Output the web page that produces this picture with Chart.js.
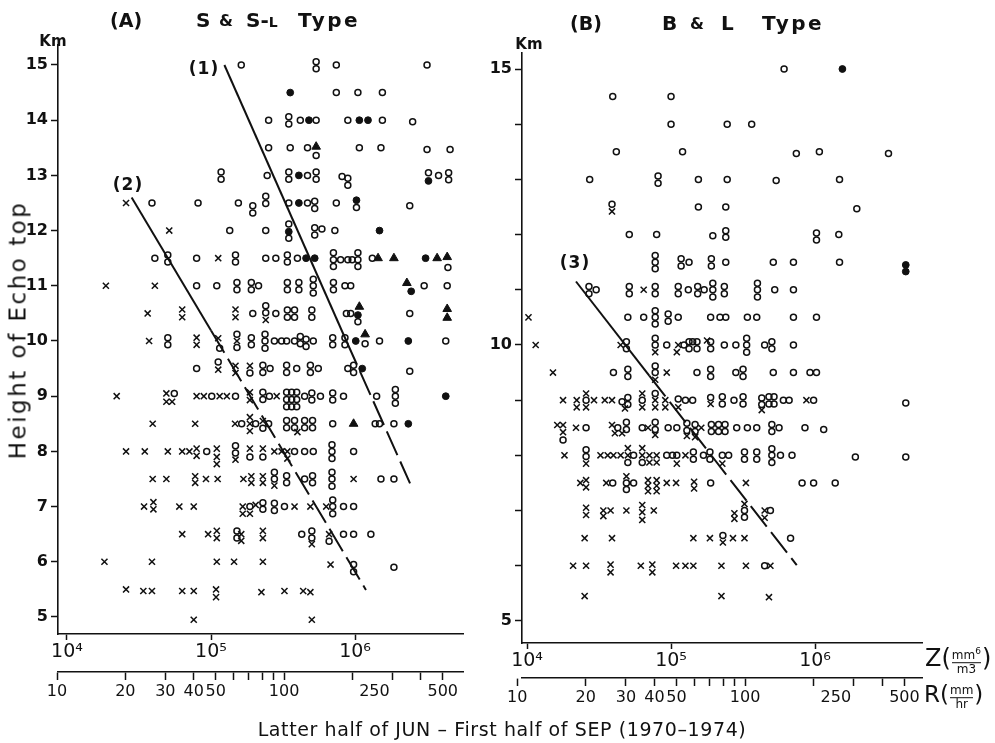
<!DOCTYPE html>
<html>
<head>
<meta charset="utf-8">
<script src="https://cdn.jsdelivr.net/npm/chart.js@4.4.1/dist/chart.umd.min.js"></script>
<style>
  html, body { margin: 0; padding: 0; background: #fff; }
  #wrap { position: relative; width: 995px; height: 743px; overflow: hidden; font-family: "DejaVu Sans", sans-serif; color: #111; }
  canvas { position: absolute; top: 0; }
  #cA { left: 0; }
  #cB { left: 490px; }
  .t { position: absolute; white-space: nowrap; line-height: 1; transform: translateY(-50%); }
  .c { position: absolute; white-space: nowrap; line-height: 1; transform: translate(-50%, -50%); }
  .h { font-size: 20px; font-weight: bold; }
  .fr { display: inline-flex; flex-direction: column; font-size: 12px; vertical-align: middle; text-align: center; line-height: 1.05; margin: 0 1px; }
  .fr .dn { border-top: 1.5px solid #111; }
</style>
</head>
<body>
<div id="wrap">
  <canvas id="cA" width="490" height="743"></canvas>
  <canvas id="cB" width="505" height="743"></canvas>

  <div class="t h" style="left:110px;top:20px;font-size:19px">(A)</div>
  <div class="t h" style="left:196px;top:20px">S</div>
  <div class="t h" style="left:219px;top:21px;font-size:16px">&amp;</div>
  <div class="t h" style="left:246px;top:20px">S-<span style="font-size:14px">L</span></div>
  <div class="t h" style="left:298px;top:20px;letter-spacing:2.5px">Type</div>

  <div class="t h" style="left:570px;top:23px;font-size:19px">(B)</div>
  <div class="t h" style="left:662px;top:23px">B</div>
  <div class="t h" style="left:690px;top:24px;font-size:16px">&amp;</div>
  <div class="t h" style="left:721px;top:23px">L</div>
  <div class="t h" style="left:762px;top:23px;letter-spacing:2.5px">Type</div>

  <div class="c" style="left:53px;top:41px;font-size:15px;font-weight:bold">Km</div>
  <div class="c" style="left:529px;top:44px;font-size:15px;font-weight:bold">Km</div>

  <div class="c" style="left:204px;top:68px;font-size:17px;font-weight:bold;letter-spacing:1px">(1)</div>
  <div class="c" style="left:128px;top:184px;font-size:17px;font-weight:bold;letter-spacing:1px">(2)</div>
  <div class="c" style="left:575px;top:262px;font-size:17px;font-weight:bold;letter-spacing:1px">(3)</div>

  <div class="c" style="left:18px;top:330px;font-size:23px;letter-spacing:2.5px;transform:translate(-50%,-50%) rotate(-90deg)">Height of Echo top</div>

  <div class="t" style="left:925px;top:661px"><span style="font-size:24px">Z(</span><span class="fr"><span>mm<sup style="font-size:9px">6</sup></span><span class="dn">m3</span></span><span style="font-size:24px">)</span></div>
  <div class="t" style="left:924px;top:697px"><span style="font-size:23px">R(</span><span class="fr"><span>mm</span><span class="dn">hr</span></span><span style="font-size:23px">)</span></div>

  <div class="c" style="left:502px;top:729px;font-size:19px;letter-spacing:0.6px">Latter half of JUN – First half of SEP (1970–1974)</div>
</div>

<script>
// Z axis ticks (mm6/m3) and R axis ticks (mm/hr)
const zTicks = [1e4, 1e5, 1e6];
const zTickText = ['10⁴', '10⁵', '10⁶'];
const rTicks = [10, 20, 30, 40, 50, 60, 70, 80, 90, 100, 200, 250, 300, 400, 500];
const rLabels = [10, 20, 30, 40, 50, 100, 250, 500];
const kmTicks = [5, 6, 7, 8, 9, 10, 11, 12, 13, 14, 15];
const kmLabelsA = [5, 6, 7, 8, 9, 10, 11, 12, 13, 14, 15];
const kmLabelsB = [5, 10, 15];

// points as [log10 Z, height km]
// (A) S & S-L type
const aOpen = [
  [6.19,15.45],
  [5.21,15.0],[5.73,15.06],[5.73,14.93],[5.87,15.0],[6.50,15.0],
  [5.87,14.5],[6.02,14.5],[6.19,14.5],
  [5.40,14.0],[5.54,14.06],[5.54,13.93],[5.62,14.0],[5.73,14.0],[5.95,14.0],[6.19,14.0],[6.40,13.97],
  [5.40,13.5],[5.55,13.5],[5.67,13.5],[5.73,13.36],[6.03,13.5],[6.18,13.5],[6.50,13.47],[6.66,13.47],
  [5.07,13.06],[5.07,12.93],[5.39,13.0],[5.54,13.06],[5.54,12.93],[5.67,13.0],[5.73,13.06],[5.73,12.93],
  [5.91,12.98],[5.95,12.95],[5.95,12.82],[6.51,13.05],[6.58,13.0],[6.65,13.05],[6.65,12.92],
  [4.59,12.5],[4.91,12.5],[5.19,12.5],[5.29,12.45],[5.29,12.32],[5.38,12.62],[5.38,12.49],[5.54,12.5],
  [5.67,12.5],[5.72,12.53],[5.72,12.4],[5.87,12.5],[6.01,12.42],[6.38,12.45],
  [5.13,12.0],[5.38,12.0],[5.54,12.12],[5.54,11.86],[5.72,12.05],[5.72,11.92],[5.77,12.03],[5.86,12.0],
  [4.61,11.5],[4.70,11.56],[4.70,11.43],[4.90,11.5],[5.17,11.56],[5.17,11.43],[5.38,11.5],[5.45,11.5],
  [5.53,11.56],[5.53,11.43],[5.60,11.5],[5.85,11.6],[5.85,11.47],[5.85,11.35],[5.90,11.47],[5.95,11.47],
  [5.98,11.47],[6.02,11.6],[6.02,11.47],[6.02,11.35],[6.12,11.5],[6.645,11.33],
  [4.90,11.0],[5.04,11.0],[5.18,11.06],[5.18,10.93],[5.28,11.06],[5.28,10.93],[5.33,11.0],[5.53,11.06],
  [5.53,10.93],[5.61,11.06],[5.61,10.93],[5.71,11.12],[5.71,11.0],[5.71,10.87],[5.85,11.06],[5.85,10.93],
  [5.93,11.0],[5.97,11.0],[6.48,11.0],[6.64,11.0],
  [5.29,10.5],[5.38,10.64],[5.38,10.51],[5.45,10.5],[5.53,10.56],[5.53,10.43],[5.58,10.56],[5.58,10.43],
  [5.70,10.56],[5.70,10.43],[5.94,10.5],[5.97,10.5],[6.02,10.35],[6.38,10.5],
  [4.70,10.06],[4.70,9.93],[5.06,9.87],[5.18,10.12],[5.18,9.88],[5.28,10.06],[5.28,9.93],[5.375,10.12],
  [5.375,10.0],[5.375,9.87],[5.44,10.0],[5.49,10.0],[5.525,10.0],[5.58,10.0],[5.62,10.08],[5.62,9.95],
  [5.66,10.03],[5.66,9.9],[5.71,10.0],[5.845,10.06],[5.845,9.93],[5.93,10.06],[5.93,9.93],[6.07,9.95],
  [6.17,10.0],[6.63,10.0],
  [4.90,9.5],[5.05,9.62],[5.27,9.42],[5.36,9.56],[5.36,9.43],[5.41,9.5],[5.525,9.56],[5.525,9.43],
  [5.595,9.5],[5.69,9.56],[5.69,9.43],[5.745,9.5],[5.95,9.5],[5.99,9.56],[5.99,9.43],[6.38,9.45],
  [4.745,9.05],[5.005,9.0],[5.17,9.0],[5.36,9.07],[5.36,8.94],[5.405,9.0],
  [5.525,9.07],[5.525,8.94],[5.525,8.81],[5.56,9.07],[5.56,8.94],[5.56,8.81],[5.595,9.07],[5.595,8.94],[5.595,8.81],
  [5.65,9.0],[5.70,9.06],[5.70,8.93],[5.76,9.0],[5.845,9.06],[5.845,8.93],[5.92,9.0],[6.15,9.0],
  [6.28,9.12],[6.28,9.0],[6.28,8.87],
  [5.213,8.5],[5.31,8.5],[5.36,8.42],[5.40,8.5],
  [5.525,8.56],[5.525,8.43],[5.58,8.56],[5.58,8.43],[5.65,8.56],[5.65,8.43],[5.705,8.56],[5.705,8.43],
  [5.845,8.5],[6.14,8.5],[6.17,8.5],[6.27,8.5],
  [4.97,8.0],[5.17,8.1],[5.17,7.97],[5.27,7.9],[5.36,7.9],[5.58,8.0],[5.65,8.0],[5.71,8.0],
  [5.84,8.12],[5.84,8.0],[5.84,7.87],[5.99,8.0],
  [5.44,7.62],[5.44,7.5],[5.525,7.56],[5.525,7.43],[5.65,7.5],[5.705,7.56],[5.705,7.43],
  [5.84,7.62],[5.84,7.5],[5.84,7.37],[6.18,7.5],[6.27,7.5],
  [5.27,7.0],[5.36,7.07],[5.36,6.95],[5.44,7.06],[5.44,6.93],[5.51,7.0],[5.845,7.12],[5.845,7.0],
  [5.845,6.87],[5.92,7.0],[5.99,7.0],
  [5.18,6.56],[5.18,6.43],[5.63,6.5],[5.70,6.56],[5.70,6.43],[5.82,6.37],[5.92,6.5],[5.99,6.5],[6.11,6.5],
  [5.99,5.95],[5.99,5.82],[6.27,5.9]
];
const aCross = [
  [4.41,12.5],[4.71,12.0],[5.05,11.5],[4.27,11.0],[4.61,11.0],
  [4.56,10.5],[4.80,10.57],[4.80,10.43],[5.17,10.57],[5.17,10.43],[5.38,10.38],
  [4.57,10.0],[4.90,10.06],[4.90,9.93],[5.05,10.05],[5.18,10.0],
  [5.05,9.48],[5.17,9.55],[5.17,9.42],[5.27,9.55],
  [4.345,9.0],[4.69,9.05],[4.69,8.9],[4.73,8.9],[4.90,9.0],[4.95,9.0],[5.06,9.0],[5.11,9.0],
  [5.27,9.07],[5.27,8.93],[5.456,9.0],
  [4.595,8.5],[4.89,8.5],[5.167,8.5],[5.27,8.62],[5.27,8.5],[5.27,8.37],[5.36,8.55],[5.60,8.35],
  [4.41,8.0],[4.54,8.0],[4.70,8.0],[4.80,8.0],[4.85,8.0],[4.90,8.05],[4.90,7.92],[5.04,8.05],
  [5.04,7.9],[5.04,7.77],[5.17,7.85],[5.27,8.05],[5.36,8.05],[5.44,8.0],[5.49,8.0],[5.53,8.0],[5.53,7.87],
  [4.595,7.5],[4.69,7.5],[4.89,7.55],[4.89,7.43],[4.965,7.5],[5.046,7.5],[5.225,7.5],[5.28,7.55],
  [5.28,7.43],[5.36,7.55],[5.36,7.43],[5.44,7.38],[5.99,7.5],
  [4.535,7.0],[4.60,7.08],[4.60,6.95],[4.78,7.0],[4.88,7.0],[5.22,7.0],[5.31,7.03],[5.22,6.87],
  [5.27,6.87],[5.58,7.0],[5.69,7.0],[5.80,7.0],
  [4.80,6.5],[4.98,6.5],[5.04,6.56],[5.04,6.43],[5.21,6.5],[5.21,6.38],[5.36,6.56],[5.36,6.43],
  [5.70,6.32],[5.82,6.5],
  [4.26,6.0],[4.59,6.0],[5.04,6.0],[5.16,6.0],[5.36,6.0],[5.83,5.95],
  [4.41,5.5],[4.53,5.47],[4.59,5.47],[4.80,5.47],[4.88,5.47],[5.035,5.5],[5.035,5.36],[5.35,5.45],
  [5.51,5.47],[5.64,5.47],[5.69,5.45],
  [4.88,4.95],[5.70,4.95]
];
const aDot = [
  [5.55,14.5],[5.68,14.0],[6.03,14.0],[6.09,14.0],[5.61,13.0],[6.51,12.9],[5.61,12.5],[6.01,12.55],
  [5.54,11.98],[6.17,12.0],[5.66,11.5],[5.72,11.5],[6.49,11.5],[6.39,10.9],[6.02,10.47],
  [6.005,10.0],[6.37,10.0],[6.05,9.5],[6.63,9.0],[6.37,8.5]
];
const aTri = [
  [5.73,13.52],[6.16,11.5],[6.27,11.5],[6.57,11.5],[6.64,11.52],[6.36,11.05],
  [6.03,10.62],[6.64,10.58],[6.64,10.42],[6.07,10.12],[5.99,8.5]
];

// (B) B & L type
const bOpen = [
  [5.785,15.0],
  [4.595,14.5],[5.0,14.5],
  [5.0,14.0],[5.39,14.0],[5.56,14.0],
  [4.62,13.5],[5.08,13.5],[5.87,13.47],[6.03,13.5],[6.51,13.47],
  [4.435,13.0],[4.91,13.06],[4.91,12.93],[5.19,13.0],[5.39,13.0],[5.73,12.98],[6.17,13.0],
  [4.59,12.55],[5.19,12.5],[5.38,12.5],[6.29,12.47],
  [4.71,12.0],[4.90,12.0],[5.29,11.98],[5.38,12.07],[5.38,11.95],[6.01,12.03],[6.01,11.9],[6.165,12.0],
  [4.89,11.62],[4.89,11.5],[4.89,11.38],[5.07,11.56],[5.07,11.43],[5.125,11.5],[5.28,11.56],[5.28,11.43],
  [5.38,11.5],[5.71,11.5],[5.85,11.5],[6.17,11.5],
  [4.43,11.06],[4.43,10.93],[4.48,11.0],[4.71,11.06],[4.71,10.93],[4.89,11.06],[4.89,10.93],[5.05,11.06],
  [5.05,10.93],[5.12,11.0],[5.185,11.06],[5.185,10.93],[5.23,11.0],[5.29,11.12],[5.29,11.0],[5.29,10.87],
  [5.37,11.06],[5.37,10.93],[5.60,11.12],[5.60,11.0],[5.60,10.87],[5.72,11.0],[5.85,11.0],
  [4.70,10.5],[4.81,10.5],[4.89,10.62],[4.89,10.5],[4.89,10.38],[4.98,10.56],[4.98,10.43],[5.05,10.5],
  [5.275,10.5],[5.34,10.5],[5.38,10.5],[5.53,10.5],[5.595,10.5],[5.85,10.5],[6.01,10.5],
  [4.69,10.06],[4.69,9.93],[4.89,10.12],[4.89,10.0],[4.97,10.0],[5.09,10.0],[5.125,10.06],[5.125,9.93],
  [5.15,10.06],[5.18,10.06],[5.18,9.93],[5.275,10.06],[5.275,9.93],[5.37,10.0],[5.45,10.0],[5.525,10.12],
  [5.525,10.0],[5.525,9.87],[5.65,10.0],[5.70,10.06],[5.70,9.93],[5.85,10.0],
  [4.60,9.5],[4.70,9.56],[4.70,9.43],[4.89,9.62],[4.89,9.5],[5.18,9.5],[5.275,9.56],[5.275,9.43],
  [5.45,9.5],[5.50,9.56],[5.50,9.43],[5.71,9.5],[5.85,9.5],[5.965,9.5],[6.01,9.5],
  [4.41,9.0],[4.66,8.97],[4.70,9.05],[4.70,8.92],[4.80,9.0],[4.89,9.12],[5.05,9.02],[5.10,9.0],
  [5.15,9.0],[5.275,9.05],[5.356,9.06],[5.356,8.93],[5.437,9.0],[5.50,9.06],[5.50,8.93],[5.63,9.04],
  [5.63,8.92],[5.68,9.06],[5.68,8.93],[5.715,9.06],[5.715,8.93],[5.78,9.0],[5.82,9.0],[5.99,9.0],[6.63,8.95],
  [4.25,8.28],[4.41,8.5],[4.63,8.5],[4.69,8.6],[4.69,8.47],[4.80,8.5],[4.89,8.6],[4.89,8.47],
  [4.98,8.5],[5.04,8.5],[5.11,8.58],[5.11,8.45],[5.167,8.56],[5.167,8.43],[5.28,8.56],[5.28,8.43],
  [5.33,8.56],[5.33,8.43],[5.375,8.56],[5.375,8.43],[5.456,8.5],[5.53,8.5],[5.595,8.5],[5.70,8.56],
  [5.70,8.43],[5.75,8.5],[5.93,8.5],[6.06,8.47],
  [4.41,8.1],[4.41,7.98],[4.70,7.87],[4.74,8.0],[4.80,7.87],[4.97,8.0],[5.01,8.0],[5.04,8.0],
  [5.155,8.06],[5.155,7.93],[5.225,8.0],[5.27,8.06],[5.27,7.93],[5.356,8.0],[5.40,8.0],[5.51,8.06],
  [5.51,7.93],[5.595,8.06],[5.595,7.93],[5.70,8.12],[5.70,8.0],[5.70,7.87],[5.76,8.0],[5.84,8.0],
  [6.28,7.97],[6.63,7.97],
  [4.595,7.5],[4.69,7.5],[4.69,7.38],[4.74,7.5],[5.275,7.5],[5.91,7.5],[5.99,7.5],[6.14,7.5],
  [5.51,7.0],[5.51,6.88],[5.69,7.0],
  [5.36,6.55],[5.83,6.5],
  [5.65,6.0]
];
const bCross = [
  [4.59,12.42],[4.81,11.0],[4.01,10.5],
  [4.06,10.0],[4.65,10.0],[4.89,9.87],[5.05,10.0],[5.04,9.87],[5.25,10.08],
  [4.18,9.5],[4.89,9.37],[4.97,9.5],
  [4.25,9.0],[4.345,9.0],[4.345,8.87],[4.41,9.12],[4.41,8.87],[4.465,9.0],[4.54,9.0],[4.59,9.0],
  [4.68,8.85],[4.80,9.12],[4.80,8.87],[4.89,9.0],[4.89,8.87],[4.96,9.0],[4.96,8.87],[5.05,8.87],
  [5.275,8.93],[5.63,8.82],[5.94,9.0],
  [4.21,8.55],[4.25,8.55],[4.25,8.42],[4.34,8.5],[4.59,8.55],[4.61,8.4],[4.66,8.4],[4.84,8.5],
  [4.89,8.37],[5.11,8.35],[5.167,8.33],[5.21,8.5],
  [4.26,8.0],[4.41,7.85],[4.51,8.0],[4.56,8.0],[4.60,8.0],[4.65,8.0],[4.70,8.13],[4.70,8.0],
  [4.80,8.13],[4.80,8.0],[4.85,8.0],[4.90,8.0],[4.85,7.87],[4.90,7.87],[5.04,7.85],[5.10,8.0],[5.356,7.85],
  [4.37,7.5],[4.41,7.55],[4.41,7.42],[4.55,7.5],[4.69,7.62],[4.84,7.55],[4.84,7.45],[4.84,7.35],
  [4.90,7.55],[4.90,7.45],[4.90,7.35],[4.97,7.5],[5.035,7.5],[5.16,7.52],[5.16,7.4],[5.52,7.5],
  [4.41,7.05],[4.41,6.92],[4.53,7.0],[4.53,6.9],[4.58,7.0],[4.69,7.0],[4.80,7.1],[4.80,6.97],
  [4.80,6.83],[4.88,7.0],[5.44,6.95],[5.44,6.85],[5.51,7.12],[5.65,7.0],[5.65,6.87],
  [4.40,6.5],[4.59,6.5],[5.155,6.5],[5.27,6.5],[5.36,6.42],[5.43,6.5],[5.51,6.5],
  [4.32,6.0],[4.41,6.0],[4.58,6.02],[4.58,5.88],[4.79,6.0],[4.87,6.02],[4.87,5.88],[5.035,6.0],
  [5.10,6.0],[5.155,6.0],[5.35,6.0],[5.52,6.0],[5.69,6.0],
  [4.40,5.45],[5.35,5.45],[5.68,5.43]
];
const bDot = [[6.19,15.0],[6.63,11.45],[6.63,11.33]];
const bTri = [];

// regression lines (1), (2), (3): start, break, end
const line1 = [[5.093,15.0],[5.94,10.0],[6.382,7.42]];
const line2 = [[4.449,12.6],[5.0,10.19],[6.076,5.49]];
const line3 = [[4.34,11.15],[4.85,9.44],[5.873,6.01]];

const ink = '#111';
const toXY = arr => arr.map(([e, km]) => ({ x: 10 ** e, y: km }));

function markSets(open, cross, dot, tri) {
  return [
    { data: toXY(open), pointStyle: 'circle', pointRadius: 3, borderColor: ink, backgroundColor: 'rgba(0,0,0,0)', borderWidth: 1.5 },
    { data: toXY(cross), pointStyle: 'crossRot', pointRadius: 4.3, borderColor: ink, borderWidth: 1.5 },
    { data: toXY(dot), pointStyle: 'circle', pointRadius: 3.4, borderColor: ink, backgroundColor: ink, borderWidth: 1 },
    { data: toXY(tri), pointStyle: 'triangle', pointRadius: 5, borderColor: ink, backgroundColor: ink, borderWidth: 1 }
  ];
}

function lineSet(pts) {
  return {
    data: toXY(pts), showLine: true, pointRadius: 0, borderColor: ink, borderWidth: 2,
    segment: { borderDash: ctx => ctx.p0DataIndex === 1 ? [26, 7] : undefined }
  };
}

function panel(id, g, sets) {
  return new Chart(document.getElementById(id), {
    type: 'scatter',
    data: { datasets: sets },
    options: {
      responsive: false,
      animation: false,
      devicePixelRatio: 1,
      layout: { padding: { left: 0, top: g.top, right: g.right, bottom: g.bottom } },
      plugins: { legend: { display: false }, tooltip: { enabled: false } },
      scales: {
        y: {
          min: g.ymin, max: g.ymax,
          afterBuildTicks: s => { s.ticks = kmTicks.map(v => ({ value: v })); },
          afterFit: s => { s.width = g.yw; },
          ticks: {
            autoSkip: false, padding: 3, color: ink,
            font: { family: 'DejaVu Sans', size: 16, weight: 'bold' },
            callback: v => g.kmLab.includes(v) ? String(v) : ''
          },
          grid: { drawOnChartArea: false, tickLength: 7, tickWidth: 1.5, tickColor: ink },
          border: { color: ink, width: 1.6 }
        },
        x: {
          type: 'logarithmic', position: 'bottom', weight: 0,
          min: g.zmin, max: g.zmax,
          afterBuildTicks: s => { s.ticks = zTicks.map(v => ({ value: v })); },
          afterFit: s => { s.height = g.zh; },
          ticks: {
            autoSkip: false, maxRotation: 0, padding: 1, color: ink,
            font: { family: 'DejaVu Sans', size: 19 },
            callback: v => zTickText[zTicks.indexOf(v)] || ''
          },
          grid: { drawOnChartArea: false, tickLength: 6, tickWidth: 1.5, tickColor: ink },
          border: { color: ink, width: 1.6 }
        },
        xr: {
          type: 'logarithmic', axis: 'x', position: 'bottom', weight: 1,
          min: g.rmin, max: g.rmax,
          afterBuildTicks: s => { s.ticks = rTicks.map(v => ({ value: v })); },
          afterFit: s => { s.height = g.rh; },
          ticks: {
            autoSkip: false, maxRotation: 0, padding: 2, color: ink,
            font: { family: 'DejaVu Sans', size: 16 },
            callback: v => rLabels.includes(v) ? String(v) : ''
          },
          grid: {
            drawOnChartArea: false, tickLength: 8, tickWidth: 1.5,
            tickColor: ctx => (ctx.tick && ctx.tick.value === 250) ? 'rgba(0,0,0,0)' : ink
          },
          border: { color: ink, width: 1.6 }
        }
      }
    }
  });
}

panel('cA', {
  top: 45, right: 27, bottom: 31, yw: 58, zh: 38, rh: 40,
  ymin: 4.692, ymax: 15.362, zmin: 8660, zmax: 5.62e6, rmin: 10.1, rmax: 614,
  kmLab: kmLabelsA
}, [...markSets(aOpen, aCross, aDot, aTri), lineSet(line1), lineSet(line2)]);

panel('cB', {
  top: 53, right: 73, bottom: 25, yw: 32, zh: 35, rh: 40,
  ymin: 4.60, ymax: 15.29, zmin: 9226, zmax: 5.53e6, rmin: 10.5, rmax: 597,
  kmLab: kmLabelsB
}, [...markSets(bOpen, bCross, bDot, bTri), lineSet(line3)]);
</script>
</body>
</html>
